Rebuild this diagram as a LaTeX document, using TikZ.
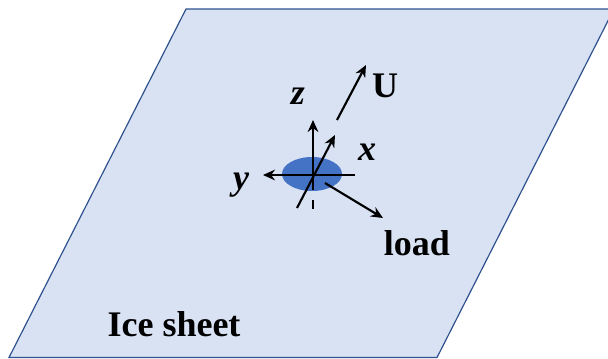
\documentclass[tikz,border=0pt]{standalone}
\usepackage{fontspec}
\setmainfont{Liberation Serif}
\usepackage{xcolor}
\usetikzlibrary{arrows.meta,shapes.geometric}
\definecolor{sheetfill}{HTML}{D9E2F3}
\definecolor{sheetline}{HTML}{2F528F}
\definecolor{patchfill}{HTML}{4472C4}
\begin{document}
\begin{tikzpicture}[
  x=0.75pt, y=-0.75pt,
  >={Stealth[length=9pt,width=8pt]},
  sheet/.style={draw=sheetline,fill=sheetfill,line width=0.9pt},
  patch/.style={ellipse,fill=patchfill,minimum width=45pt,minimum height=25.5pt,inner sep=0pt},
  axis/.style={->,line width=1.6pt,black},
  lbl/.style={font=\bfseries\fontsize{27}{27}\selectfont,inner sep=0pt},
  axlbl/.style={font=\bfseries\itshape\fontsize{27}{27}\selectfont,inner sep=0pt}
]
\useasboundingbox (0,0) rectangle (608,358);
\begin{scope}
\clip (0,0) rectangle (608,358);
\draw[sheet] (186,9) -- (614,9) -- (437,357.5) -- (9,357.5) -- cycle;
\end{scope}
\node[patch] (patch) at (312,174) {};
% axes
\coordinate (origin) at (313,175);
\coordinate (yend) at (355,175);
\coordinate (ytip) at (263,175);
\coordinate (ztip) at (313,120);
\coordinate (xend) at (297,208);
\coordinate (xtip) at (335,135);
\coordinate (ubot) at (337,120);
\coordinate (utip) at (366,65);
\coordinate (lbot) at (325,183);
\coordinate (ltip) at (383,218);
\coordinate (zlow) at (313,200);
\coordinate (zlowend) at (313,209);
\coordinate (zmid) at (313,190);
\draw[axis] (yend) -- (ytip);
\draw[axis] (origin) -- (ztip);
\draw[axis] (xend) -- (xtip);
\draw[axis] (ubot) -- (utip);
\draw[axis] (lbot) -- (ltip);
\draw[line width=1.6pt] (origin) -- (zmid);
\draw[line width=1.6pt] (zlow) -- (zlowend);
% labels
\node[axlbl] (zlbl) at (298,96) {z};
\node[lbl] (ulbl) at (385,86) {U};
\node[axlbl] (xlbl) at (367,152) {x};
\node[axlbl] (ylbl) at (241,185) {y};
\node[lbl] (loadlbl) at (417,243) {load};
\node[lbl] (icelbl) at (174,324) {Ice sheet};
\end{tikzpicture}
\end{document}
